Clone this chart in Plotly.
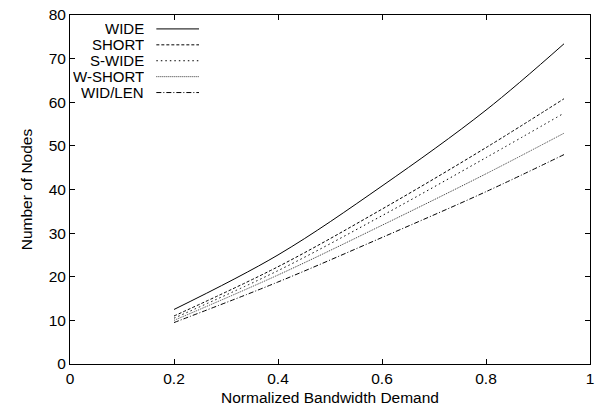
import plotly.graph_objects as go

x_vals = [0.2, 0.4, 0.6, 0.8, 0.95]
wide = [12.5, 25.0, 40.8, 58.2, 73.4]
short = [11.0, 22.3, 35.5, 49.6, 60.8]
s_wide = [10.5, 21.4, 34.0, 47.3, 57.5]
w_short = [10.0, 20.4, 31.8, 43.6, 52.9]
wid_len = [9.5, 18.8, 29.0, 39.5, 48.0]

names = ["WIDE", "SHORT", "S-WIDE", "W-SHORT", "WID/LEN"]
series = [wide, short, s_wide, w_short, wid_len]
dashes = ["solid", "3px,2px", "1.5px,3px", "1px,1px", "5px,2px,1px,2px"]
colors = ["black", "black", "black", "#333333", "black"]

x_ticks = [0, 0.2, 0.4, 0.6, 0.8, 1]
x_labels = ["0", "0.2", "0.4", "0.6", "0.8", "1"]
y_ticks = [0, 10, 20, 30, 40, 50, 60, 70, 80]

FS = 15.5

fig = go.Figure()
for n, s, d, c in zip(names, series, dashes, colors):
    fig.add_trace(go.Scatter(x=x_vals, y=s, mode="lines", name=n,
                             line=dict(color=c, width=1, dash=d, shape="spline", smoothing=1.0),
                             showlegend=False))

# gnuplot-style legend: right-aligned text with line sample to the right
top_px = 27.0
step_px = 16.0
plot_top, plot_h, plot_l, plot_w = 13, 351, 70, 524
for i, (n, d, c) in enumerate(zip(names, dashes, colors)):
    yp = 1 - (top_px + i * step_px - plot_top) / plot_h
    fig.add_annotation(x=(146 - plot_l) / plot_w, y=yp, xref="paper", yref="paper", text=n,
                       showarrow=False, xanchor="right", yanchor="middle",
                       height=13, borderpad=0, valign="middle",
                       font=dict(size=15, color="black"))
    fig.add_shape(type="line", xref="paper", yref="paper",
                  x0=(157 - plot_l) / plot_w, x1=(200 - plot_l) / plot_w, y0=yp, y1=yp,
                  line=dict(color=c, width=1, dash=d))

axis_common = dict(showline=True, linecolor="black", linewidth=1, mirror="allticks",
                   ticks="inside", ticklen=5, tickcolor="black", showgrid=False,
                   zeroline=False, tickfont=dict(size=FS, color="black"))

fig.update_layout(
    width=600, height=411,
    margin=dict(l=70, r=6, t=13, b=47),
    paper_bgcolor="white", plot_bgcolor="white",
    font=dict(family="Liberation Sans, Arial, sans-serif", size=FS, color="black"),
    xaxis=dict(range=[0, 1], tickvals=x_ticks, ticktext=x_labels,
               title=dict(text="Normalized Bandwidth Demand", standoff=6, font=dict(size=FS)), **axis_common),
    yaxis=dict(range=[0, 80], tickvals=y_ticks,
               title=dict(text="Number of Nodes", standoff=12, font=dict(size=FS)), **axis_common),
)

fig.write_html("out.html")
